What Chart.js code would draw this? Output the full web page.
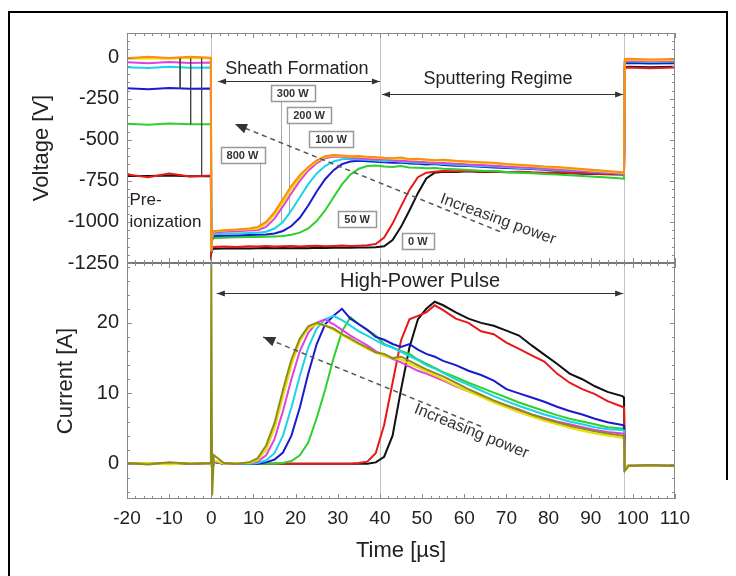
<!DOCTYPE html>
<html>
<head>
<meta charset="utf-8">
<script src="https://cdn.jsdelivr.net/npm/chart.js@4"></script>
<style>
  html, body { margin: 0; padding: 0; background: #fff; }
</style>
</head>
<body>
<canvas id="myChart" width="736" height="576"></canvas>
<script>
// time grid shared by every trace [µs]
const T = [-20, -15, -10, -5, -0.1, 0, 0.2, 0.6, 3, 6, 9, 11, 13, 15, 17, 19, 21, 23, 25, 27,
  29, 31, 33, 35, 37, 39, 41, 43, 45, 47, 49, 51, 53, 55, 58, 61, 64, 67, 70, 73,
  76, 79, 82, 85, 88, 91, 94, 97.5, 97.9, 98.1, 99, 104, 110];

const seriesNames = ['800 W', 'yellow', 'magenta', '300 W', '200 W', '100 W', '50 W', '0 W'];

// voltage [V]
const vOrange = [-4, 6, -2, 5, 0, -1180, -1090, -1056, -1050, -1046, -1040, -1030, -1000, -940, -860,
  -780, -715, -665, -625, -600, -592, -596, -600, -598, -604, -606, -610, -612, -608, -618,
  -615, -620, -624, -622, -628, -632, -636, -640, -648, -652, -656, -662, -666, -672, -678,
  -684, -690, -697, -700, -8, -6, -12, -9];
const vYellow = [-8, -3, -7, -2, -5, -1175, -1085, -1058, -1052, -1048, -1044, -1040, -1010, -955, -880,
  -800, -730, -672, -632, -605, -596, -598, -603, -600, -607, -610, -612, -615, -612, -620,
  -618, -624, -626, -625, -632, -636, -640, -645, -650, -656, -660, -665, -670, -676, -682,
  -688, -694, -700, -703, -15, -12, -16, -14];
const vMagenta = [-28, -34, -27, -32, -30, -1175, -1090, -1064, -1060, -1056, -1052, -1050, -1030, -980, -905,
  -825, -750, -688, -642, -612, -602, -604, -610, -612, -615, -620, -618, -625, -628, -630,
  -634, -636, -640, -642, -646, -650, -654, -658, -662, -666, -670, -675, -680, -684, -690,
  -694, -700, -705, -708, -20, -18, -22, -20];
const vCyan = [-58, -63, -56, -61, -60, -1178, -1095, -1075, -1072, -1070, -1068, -1066, -1060, -1040, -1000,
  -930, -850, -770, -705, -660, -632, -618, -615, -620, -622, -626, -630, -628, -634, -636,
  -640, -642, -645, -648, -652, -656, -660, -663, -667, -671, -675, -680, -684, -688, -692,
  -697, -701, -706, -708, -25, -22, -27, -24];
const vBlue = [-186, -192, -185, -190, -188, -1180, -1100, -1086, -1084, -1082, -1080, -1078, -1076, -1070, -1055,
  -1025, -975, -900, -815, -740, -685, -648, -632, -628, -630, -634, -636, -640, -638, -644,
  -646, -650, -648, -654, -658, -660, -664, -668, -672, -675, -678, -682, -686, -690, -694,
  -698, -702, -706, -708, -35, -32, -36, -34];
const vGreen = [-403, -408, -401, -406, -405, -1182, -1110, -1098, -1096, -1094, -1092, -1091, -1090, -1088, -1085,
  -1078, -1065, -1040, -995, -930, -850, -772, -712, -676, -660, -656, -662, -665, -660, -668,
  -670, -674, -672, -676, -680, -684, -688, -692, -696, -700, -704, -708, -712, -716, -720,
  -725, -730, -736, -738, -30, -28, -33, -30];
const vRed = [-712, -728, -706, -724, -718, -1185, -1160, -1152, -1150, -1152, -1148, -1150, -1146, -1150, -1148,
  -1146, -1150, -1147, -1145, -1148, -1146, -1144, -1147, -1145, -1142, -1135, -1095, -1010, -905, -805,
  -728, -700, -694, -690, -692, -688, -694, -692, -696, -694, -698, -700, -698, -702, -704,
  -706, -708, -710, -712, -62, -60, -64, -60];
const vBlack = [-720, -720, -718, -722, -720, -1190, -1170, -1163, -1162, -1160, -1161, -1160, -1158, -1160, -1159,
  -1160, -1158, -1160, -1157, -1158, -1157, -1156, -1157, -1155, -1156, -1154, -1148, -1110, -1030, -930,
  -825, -735, -700, -694, -696, -692, -696, -694, -698, -696, -700, -702, -700, -704, -706,
  -708, -710, -712, -714, -58, -55, -58, -56];

// current [A]
const iOlive = [0.1, -0.1, 0.2, 0, 0.1, 28.5, -4.5, 1.2, 0.1, 0, 0.2, 0.8, 2.6, 5.8, 10.5,
  14.8, 17.8, 19.5, 20, 19.6, 19.2, 18.4, 17.8, 17.1, 16.5, 15.8, 15.6, 15.0, 15.2, 14.6,
  14.0, 13.4, 12.9, 12.4, 11.5, 10.6, 9.8, 9.0, 8.3, 7.7, 7.0, 6.4, 5.9, 5.4, 5.0,
  4.6, 4.3, 4.0, 3.9, -1.0, -0.3, -0.2, -0.3];
const iYellow = [0, 0.1, -0.1, 0.1, 0, 1.5, -1, 0.5, 0, 0.1, 0.1, 0.5, 2.0, 5.0, 9.5,
  14.0, 17.4, 19.2, 19.8, 19.7, 19.0, 18.3, 17.6, 17.0, 16.3, 15.8, 15.3, 15.0, 14.8, 14.2,
  13.7, 13.1, 12.6, 12.0, 11.1, 10.3, 9.5, 8.7, 8.0, 7.3, 6.7, 6.1, 5.6, 5.1, 4.7,
  4.3, 4.0, 3.7, 3.6, -0.8, -0.2, -0.3, -0.2];
const iMagenta = [0, 0, 0.1, 0, 0, 1.5, -1, 0.4, 0, 0, 0.1, 0.3, 1.2, 3.5, 7.5,
  12.0, 16.0, 18.6, 20.0, 20.5, 19.8, 19.0, 18.2, 17.5, 16.8, 16.0, 15.4, 14.9, 14.4, 13.8,
  13.2, 12.8, 12.3, 11.8, 11.0, 10.3, 9.6, 8.9, 8.2, 7.6, 7.0, 6.5, 6.0, 5.6, 5.2,
  4.8, 4.5, 4.3, 4.2, -0.8, -0.2, -0.2, -0.2];
const iCyan = [0, 0, 0, 0.1, 0, 1.5, -1, 0.4, 0, 0, 0, 0.1, 0.5, 1.5, 4.0,
  8.0, 12.5, 16.5, 19.2, 20.5, 21.0, 20.4, 19.6, 18.8, 18.2, 17.5, 16.9, 16.5, 15.9, 15.3,
  14.7, 14.0, 13.5, 12.9, 12.0, 11.2, 10.4, 9.6, 8.9, 8.2, 7.6, 7.0, 6.5, 6.0, 5.6,
  5.2, 4.9, 4.8, 4.7, -0.8, -0.2, -0.2, -0.2];
const iBlue = [0, 0, 0, 0, 0, 1.5, -1, 0.3, 0, 0, 0, 0, 0.2, 0.6, 1.6,
  4.0, 8.0, 12.8, 17.0, 19.8, 21.0, 22.0, 20.6, 19.8, 19.0, 18.0, 17.6, 17.0, 16.6, 17.0,
  16.2, 15.6, 15.2, 14.6, 14.0, 13.2, 12.6, 11.8, 10.6, 10.0, 9.4, 8.8, 8.1, 7.5, 7.0,
  6.4, 5.9, 5.5, 5.4, -0.8, -0.2, -0.2, -0.2];
const iGreen = [0, 0, 0, 0, 0, 1.5, -1, 0.3, 0, 0, 0, 0, 0, 0, 0.1,
  0.4, 1.2, 3.0, 6.5, 10.5, 15.0, 18.8, 20.8, 19.8, 19.0, 18.2, 17.0, 16.5, 16.0, 15.6,
  14.8, 14.2, 13.6, 13.0, 12.3, 11.5, 10.8, 10.1, 9.4, 8.7, 8.1, 7.5, 6.9, 6.4, 6.0,
  5.6, 5.2, 5.0, 4.9, -0.8, -0.2, -0.2, -0.2];
const iRed = [0, 0, 0, 0, 0, 1.5, -1, 0.3, 0, 0, 0, 0, 0, 0, 0,
  0, 0, 0, 0, 0, 0, 0, 0, 0.1, 0.3, 1.5, 5.5, 11.5, 17.5, 20.5,
  21.0, 21.5, 22.5, 21.8, 20.6, 20.0, 18.8, 18.4, 17.2, 16.3, 15.4, 14.5, 12.8, 11.5, 10.6,
  9.9, 8.9, 8.1, 8.0, -0.8, -0.2, -0.2, -0.2];
const iBlack = [0, 0, 0, 0, 0, 1.5, -1, 0.3, 0, 0, 0, 0, 0, 0, 0,
  0, 0, 0, 0, 0, 0, 0, 0, 0, 0, 0.2, 1.0, 4.0, 10.5, 16.5,
  20.5, 22.0, 23.0, 22.5, 21.5, 20.6, 20.0, 19.6, 18.9, 18.2, 16.8, 15.5, 14.2, 12.8, 12.0,
  11.0, 10.2, 9.6, 9.4, -0.8, -0.2, -0.2, -0.2];

// short arcs seen in the pre-ionization part of the voltage traces
const arcT = [-7.4, -4.9, -2.3];
const arcV = [-190, -405, -720];

// tick labels
const xTicks = [-20, -10, 0, 10, 20, 30, 40, 50, 60, 70, 80, 90, 100, 110];
const vTicks = [-1250, -1000, -750, -500, -250, 0];
const iTicks = [0, 10, 20];

const voltSeries = [vOrange, vYellow, vMagenta, vCyan, vBlue, vGreen, vRed, vBlack];
const currSeries = [iOlive, iYellow, iMagenta, iCyan, iBlue, iGreen, iRed, iBlack];
const voltColors = ['#ff8a16', '#e8e000', '#e040e0', '#18d4e8', '#1a1ad0', '#2ed02e', '#e81818', '#111111'];
const currColors = ['#8f8c1c', '#e8e000', '#e040e0', '#18d4e8', '#1a1ad0', '#2ed02e', '#e81818', '#111111'];

const FONT = '"Liberation Sans", Arial, sans-serif';
const zip = vals => T.map((t, k) => ({x: t, y: vals[k]}));

const datasets = [];
voltSeries.forEach((s, k) => datasets.push({
  label: seriesNames[k] + ' V', data: zip(s), yAxisID: 'yV',
  borderColor: voltColors[k], borderWidth: 2, pointRadius: 0, fill: false
}));
currSeries.forEach((s, k) => datasets.push({
  label: seriesNames[k] + ' I', data: zip(s), yAxisID: 'yI',
  borderColor: currColors[k], borderWidth: 2, pointRadius: 0, fill: false
}));
const arcData = [];
arcT.forEach((t, k) => { arcData.push({x: t, y: -5}, {x: t, y: arcV[k]}, {x: t + 0.01, y: null}); });
datasets.push({label: 'arcs', data: arcData, yAxisID: 'yV', borderColor: '#444', borderWidth: 1,
  pointRadius: 0, spanGaps: false, order: -1});

// annotation layout (data coordinates)
const guideT = [0, 40, 98];
const boxes = [
  {text: '800 W', x: 7.4, y: -590}, {text: '300 W', x: 19.3, y: -217},
  {text: '200 W', x: 23.2, y: -348}, {text: '100 W', x: 28.4, y: -494},
  {text: '50 W', x: 34.6, y: -985}, {text: '0 W', x: 49, y: -1117}
];
const leaders = [{x: 11.5, y0: -635, y1: -1040}, {x: 16.5, y0: -262, y1: -1000}, {x: 18.5, y0: -393, y1: -960}];

function line(ctx, x0, y0, x1, y1) {
  ctx.beginPath(); ctx.moveTo(x0, y0); ctx.lineTo(x1, y1); ctx.stroke();
}
function head(ctx, x, y, ang, len, w) {
  const c = Math.cos(ang), s = Math.sin(ang);
  ctx.beginPath();
  ctx.moveTo(x, y);
  ctx.lineTo(x - len * c + w * s, y - len * s - w * c);
  ctx.lineTo(x - len * c - w * s, y - len * s + w * c);
  ctx.closePath(); ctx.fill();
}
function dblArrow(ctx, x0, x1, y) {
  line(ctx, x0, y, x1, y);
  head(ctx, x0, y, Math.PI, 8, 3);
  head(ctx, x1, y, 0, 8, 3);
}
function dashArrow(ctx, hx, hy, tx, ty) {
  ctx.save();
  ctx.setLineDash([5, 4]);
  ctx.lineWidth = 1.5;
  line(ctx, tx, ty, hx, hy);
  ctx.restore();
  head(ctx, hx, hy, Math.atan2(hy - ty, hx - tx), 12, 5);
}
function rotText(ctx, txt, x, y, deg) {
  ctx.save(); ctx.translate(x, y); ctx.rotate(deg * Math.PI / 180);
  ctx.fillText(txt, 0, 0); ctx.restore();
}

const annot = {
  id: 'annot',
  beforeDatasetsDraw(chart) {
    const {ctx, scales: {x, yV, yI}} = chart;
    ctx.save();
    ctx.strokeStyle = '#c4c4c4'; ctx.lineWidth = 1;
    guideT.forEach(g => {
      const gx = Math.round(x.getPixelForValue(g)) + 0.5;
      line(ctx, gx, yV.top, gx, yI.bottom);
    });
    ctx.strokeStyle = '#aaa';
    leaders.forEach(l => {
      const lx = Math.round(x.getPixelForValue(l.x)) + 0.5;
      line(ctx, lx, yV.getPixelForValue(l.y0), lx, yV.getPixelForValue(l.y1));
    });
    ctx.restore();
  },
  afterDatasetsDraw(chart) {
    const {ctx, scales: {x, yV, yI}} = chart;
    const X = v => x.getPixelForValue(v);
    ctx.save();

    // panel frames
    ctx.strokeStyle = '#8a8a8a'; ctx.lineWidth = 1;
    ctx.strokeRect(x.left + 0.5, yV.top + 0.5, x.right - x.left - 1, yI.bottom - yV.top - 1);
    ctx.strokeStyle = '#777'; ctx.lineWidth = 2;
    line(ctx, x.left, yV.bottom, x.right, yV.bottom);

    // inward minor/major ticks
    ctx.strokeStyle = '#8a8a8a'; ctx.lineWidth = 1;
    for (let v = -20; v <= 110; v += 2) {
      const px = Math.round(X(v)) + 0.5, len = v % 10 === 0 ? 5 : 3;
      line(ctx, px, yV.top, px, yV.top + len);
      line(ctx, px, yV.bottom, px, yV.bottom - len);
      line(ctx, px, yI.top, px, yI.top + len);
      line(ctx, px, yI.bottom, px, yI.bottom - len);
    }
    for (let v = -1250; v <= 150; v += 50) {
      const py = Math.round(yV.getPixelForValue(v)) + 0.5, len = v % 250 === 0 ? 5 : 3;
      line(ctx, x.left, py, x.left + len, py);
      line(ctx, x.right, py, x.right - len, py);
    }
    for (let v = -4; v <= 28; v += 2) {
      const py = Math.round(yI.getPixelForValue(v)) + 0.5, len = v % 10 === 0 ? 5 : 3;
      line(ctx, x.left, py, x.left + len, py);
      line(ctx, x.right, py, x.right - len, py);
    }

    // arrows
    ctx.strokeStyle = '#333'; ctx.fillStyle = '#333'; ctx.lineWidth = 1;
    dblArrow(ctx, X(1.6), X(40), Math.round(yV.getPixelForValue(-141)) + 0.5);
    dblArrow(ctx, X(40.5), X(97.7), Math.round(yV.getPixelForValue(-222)) + 0.5);
    dblArrow(ctx, X(1.3), X(97.7), Math.round(yI.getPixelForValue(24.2)) + 0.5);
    ctx.strokeStyle = '#555'; ctx.fillStyle = '#333';
    dashArrow(ctx, X(5.6), yV.getPixelForValue(-404), X(68.5), yV.getPixelForValue(-1059));
    dashArrow(ctx, X(12.3), yI.getPixelForValue(18.0), X(64), yI.getPixelForValue(5.3));

    // texts
    ctx.fillStyle = '#222'; ctx.textAlign = 'center'; ctx.textBaseline = 'middle';
    ctx.font = '18px ' + FONT;
    ctx.fillText('Sheath Formation', X(20.3), yV.getPixelForValue(-68));
    ctx.fillText('Sputtering Regime', X(68), yV.getPixelForValue(-131));
    ctx.font = '20px ' + FONT;
    ctx.fillText('High-Power Pulse', X(49.5), yI.getPixelForValue(25.9));
    ctx.font = '16px ' + FONT; ctx.fillStyle = '#333';
    rotText(ctx, 'Increasing power', X(68), yV.getPixelForValue(-984), 20);
    rotText(ctx, 'Increasing power', X(61.7), yI.getPixelForValue(4.6), 22);
    ctx.textAlign = 'left'; ctx.fillStyle = '#222'; ctx.font = '17px ' + FONT;
    ctx.fillText('Pre-', X(-19.4), yV.getPixelForValue(-869));
    ctx.fillText('ionization', X(-19.4), yV.getPixelForValue(-1000));

    // power boxes
    ctx.textAlign = 'center'; ctx.font = 'bold 11px ' + FONT;
    boxes.forEach(b => {
      const bx = X(b.x), by = yV.getPixelForValue(b.y);
      const w = ctx.measureText(b.text).width + 12, h = 16;
      ctx.fillStyle = '#fff'; ctx.fillRect(bx - w / 2, by - h / 2, w, h);
      ctx.strokeStyle = '#999'; ctx.lineWidth = 1.5;
      ctx.strokeRect(Math.round(bx - w / 2) + 0.5, Math.round(by - h / 2) + 0.5, Math.round(w), h);
      ctx.fillStyle = '#333'; ctx.fillText(b.text, bx, by + 1);
    });

    // outer frame of the figure
    ctx.strokeStyle = '#000'; ctx.lineWidth = 2;
    ctx.beginPath();
    ctx.moveTo(9, 576); ctx.lineTo(9, 12); ctx.lineTo(727, 12); ctx.lineTo(727, 480);
    ctx.stroke();
    ctx.restore();
  }
};

const ctx = document.getElementById('myChart').getContext('2d');

const tickOpts = size => ({
  font: {size: size, family: FONT}, color: '#222', padding: 8,
  autoSkip: false, maxRotation: 0, callback: v => String(v)
});

const config = {
  type: 'line',
  data: {datasets: datasets},
  options: {
    responsive: false,
    animation: false,
    devicePixelRatio: 1,
    layout: {padding: {top: 33, right: 61, bottom: 0, left: 0}},
    plugins: {legend: {display: false}, tooltip: {enabled: false}},
    elements: {line: {tension: 0}},
    scales: {
      x: {
        type: 'linear', min: -20, max: 110, position: 'bottom',
        afterBuildTicks: s => { s.ticks = xTicks.map(v => ({value: v})); },
        afterFit: s => { s.height = 77; },
        ticks: tickOpts(19),
        grid: {display: false, drawTicks: false},
        border: {display: false},
        title: {display: true, text: 'Time [µs]', font: {size: 22, family: FONT}, color: '#222',
          padding: {top: 0, bottom: 12}}
      },
      yI: {
        type: 'linear', position: 'left', stack: 'panels', stackWeight: 236,
        min: -5, max: 28.5,
        afterBuildTicks: s => { s.ticks = iTicks.map(v => ({value: v})); },
        afterFit: s => { s.width = 127; },
        ticks: tickOpts(20),
        grid: {display: false, drawTicks: false},
        border: {display: false},
        title: {display: true, text: 'Current [A]', font: {size: 22, family: FONT}, color: '#222',
          padding: {top: 53, bottom: 0}}
      },
      yV: {
        type: 'linear', position: 'left', stack: 'panels', stackWeight: 230,
        min: -1250, max: 150,
        afterBuildTicks: s => { s.ticks = vTicks.map(v => ({value: v})); },
        afterFit: s => { s.width = 127; },
        ticks: tickOpts(20),
        grid: {display: false, drawTicks: false},
        border: {display: false},
        title: {display: true, text: 'Voltage [V]', font: {size: 22, family: FONT}, color: '#222',
          padding: {top: 29, bottom: 0}}
      }
    }
  },
  plugins: [annot]
};

const myChart = new Chart(ctx, config);
</script>
</body>
</html>
